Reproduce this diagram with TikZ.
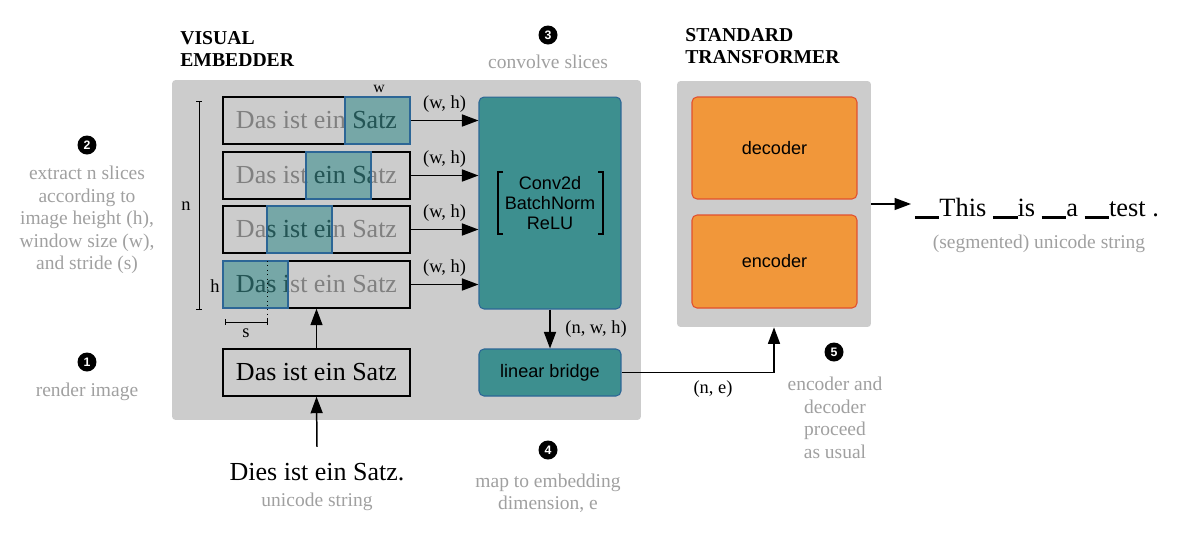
\documentclass[tikz,border=0pt]{standalone}
\usepackage{fontspec}
\setmainfont{Liberation Serif}
\newfontfamily\blockfont{Liberation Sans}
\usetikzlibrary{arrows.meta}

\definecolor{panelgray}{RGB}{204,204,204}
\definecolor{tealfill}{RGB}{61,143,143}
\definecolor{tealedge}{RGB}{44,102,150}
\definecolor{orangefill}{RGB}{241,151,58}
\definecolor{orangeedge}{RGB}{226,80,45}
\definecolor{notegray}{RGB}{160,160,160}
\definecolor{slicegray}{RGB}{128,128,128}

\newcommand{\wordbar}{\rule[-1.6pt]{14pt}{1.8pt}}

\begin{document}
\begin{tikzpicture}[x = 0.02cm, y = -0.02cm,
    panel/.style = {fill = panelgray, rounded corners = 2pt, inner sep = 0},
    slicebox/.style = {draw = black, line width = 0.8pt, minimum width = 3.74cm, minimum height = 0.94cm, inner sep = 0, font = \fontsize{14.8}{17}\selectfont},
    window/.style = {fill = tealfill, fill opacity = 0.6, draw = tealedge, line width = 0.6pt},
    tealbox/.style = {fill = tealfill, draw = tealedge, line width = 0.6pt, rounded corners = 0.1cm, inner sep = 0, font = \blockfont\fontsize{10.3}{11.2}\selectfont},
    orangebox/.style = {fill = orangefill, draw = orangeedge, line width = 0.6pt, rounded corners = 0.1cm, minimum width = 3.3cm, inner sep = 0, font = \blockfont\fontsize{10.3}{12}\selectfont},
    flow/.style = {-{Triangle[length = 3.3mm, width = 2.4mm]}, line width = 0.85pt},
    dimline/.style = {line width = 0.5pt},
    dimlabel/.style = {font = \fontsize{10.5}{12}\selectfont},
    title/.style = {font = \bfseries\fontsize{11.2}{13}\selectfont, align = left, inner sep = 0},
    note/.style = {text = notegray, font = \fontsize{11.1}{12.8}\selectfont, align = center},
    stepmark/.style = {circle, fill = black, text = white, inner sep = 0, minimum size = 0.38cm, font = \blockfont\bfseries\fontsize{7}{8}\selectfont}
]
    \useasboundingbox (0, 0) rectangle (1200, 532);

    % grey panels
    \node[panel, minimum width = 9.38cm, minimum height = 6.8cm] (embedder) at (406.5, 250) {};
    \node[panel, minimum width = 3.88cm, minimum height = 4.92cm] (xfmr) at (774, 204) {};

    \node[title, anchor = west] (vetitle) at (180, 49) {VISUAL\\EMBEDDER};
    \node[title, anchor = west] (sttitle) at (685, 46) {STANDARD\\TRANSFORMER};

    % slices with their windows
    \foreach \r/\y/\wx in {1/120.5/345, 2/175.5/306, 3/229.5/267, 4/284.5/223} {
        \node[slicebox, text = slicegray] (slice\r) at (316.5, \y) {Das ist ein Satz};
        \begin{scope}
            \clip (\wx, \y - 23.5) rectangle ++(65, 47);
            \node[slicebox, draw = none, text = black] at (316.5, \y) {Das ist ein Satz};
        \end{scope}
        \draw[window] (\wx, \y - 23.5) rectangle ++(65, 47);
    }

    \node[tealbox, minimum width = 2.84cm, minimum height = 4.24cm, align = center] (conv) at (550, 203) {Conv2d\\BatchNorm\\ReLU};
    \draw[line width = 0.8pt] (503, 172) -- (498, 172) -- (498, 234) -- (503, 234);
    \draw[line width = 0.8pt] (598, 172) -- (603, 172) -- (603, 234) -- (598, 234);

    \foreach \r in {1, ..., 4}
        \draw[flow] (slice\r.east) -- (slice\r.east -| conv.west) node[midway, above = 1pt, dimlabel] {(w, h)};

    % dimensions
    \draw[dimline] (196, 101) -- (202, 101) (199, 101) -- (199, 309) (196, 309) -- (202, 309);
    \node[dimlabel] (nlabel) at (186, 206) {n};
    \node[dimlabel] (hlabel) at (215, 286) {h};
    \node[dimlabel, font = \fontsize{9}{10}\selectfont] (wlabel) at (379, 89) {w};
    \draw[dimline] (225, 319) -- (225, 325) (225, 322) -- (267, 322) (267, 319) -- (267, 325);
    \draw[dimline, dotted] (267, 261) -- (267, 319);
    \node[dimlabel] (slabel) at (246, 333) {s};

    \node[slicebox, text = black] (render) at (316.5, 372.5) {Das ist ein Satz};
    \draw[flow] (render) -- (slice4);

    \node[inner sep = 0, font = \fontsize{14.8}{17}\selectfont] (input) at (317, 472) {Dies ist ein Satz.};
    \node[note] (inputnote) at (317, 502) {unicode string};
    \draw[flow] ([yshift = 0.32cm]input.north) -- (render.south);

    \node[tealbox, minimum width = 2.84cm, minimum height = 0.94cm] (bridge) at (550, 372.5) {linear bridge};
    \draw[flow] (conv) -- (bridge) node[midway, right = 5pt, dimlabel] {(n, w, h)};

    % transformer
    \node[orangebox, minimum height = 2.04cm] (decoder) at (774.5, 148) {decoder};
    \node[orangebox, minimum height = 1.86cm] (encoder) at (774.5, 261.5) {encoder};
    \draw[flow] (bridge.east) -| (xfmr.south) node[pos = 0.3, below = 1pt, dimlabel] {(n, e)};

    \node[anchor = west, inner sep = 2pt, font = \fontsize{15}{17}\selectfont] (output) at (911, 208.5) {\wordbar This \wordbar is \wordbar a \wordbar test .};
    \draw[flow] (xfmr.east) -- (xfmr.east -| output.west);
    \node[note] (outputnote) at (1039, 244) {(segmented) unicode string};

    % steps
    \node[stepmark] (step1) at (87, 362) {1};
    \node[stepmark] (step2) at (87, 145) {2};
    \node[stepmark] (step3) at (548, 35) {3};
    \node[stepmark] (step4) at (548, 450) {4};
    \node[stepmark] (step5) at (834, 352) {5};

    \node[note] (note1) at (87, 392) {render image};
    \node[note] (note2) at (87, 220) {extract n slices\\according to\\image height (h),\\window size (w),\\and stride (s)};
    \node[note] (note3) at (548, 62) {convolve slices};
    \node[note] (note4) at (548, 493) {map to embedding\\dimension, e};
    \node[note] (note5) at (835, 418) {encoder and\\decoder\\proceed\\as usual};
\end{tikzpicture}
\end{document}
